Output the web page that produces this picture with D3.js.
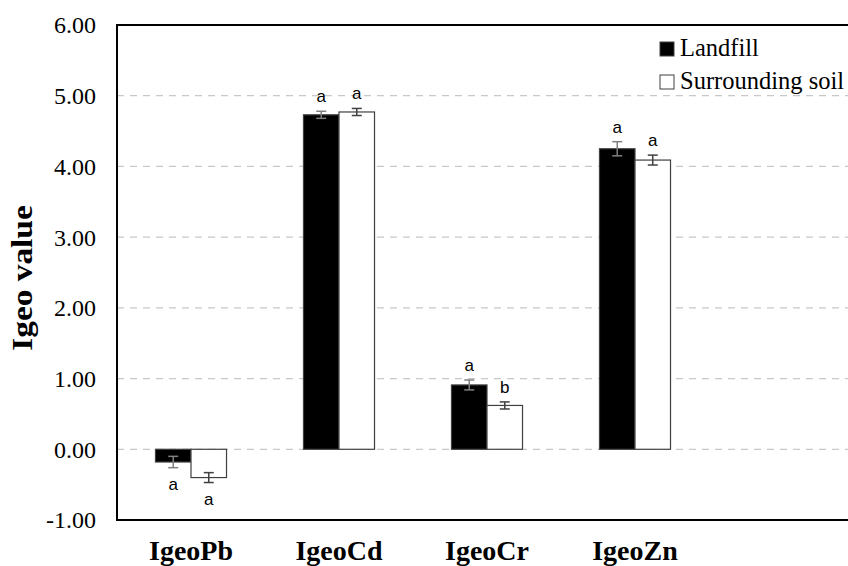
<!DOCTYPE html>
<html>
<head>
<meta charset="utf-8">
<script src="https://cdn.jsdelivr.net/npm/d3@7"></script>
<style>
  body { margin: 0; background: #fff; }
  svg { display: block; }
</style>
</head>
<body>
<div id="chart"></div>
<script>
const categories = ['IgeoPb', 'IgeoCd', 'IgeoCr', 'IgeoZn'];
const seriesNames = ['Landfill', 'Surrounding soil'];
const landfill = [-0.18, 4.73, 0.91, 4.25];
const landfillErr = [0.08, 0.05, 0.07, 0.10];
const landfillLetters = ['a', 'a', 'a', 'a'];
const soil = [-0.40, 4.77, 0.62, 4.09];
const soilErr = [0.07, 0.05, 0.05, 0.07];
const soilLetters = ['a', 'a', 'b', 'a'];
const yTicks = [-1, 0, 1, 2, 3, 4, 5, 6];

const width = 848;
const height = 566;
const plotLeft = 117, plotTop = 25, plotBottom = 520;
const serif = "'Liberation Serif', 'Times New Roman', serif";

const svg = d3.select('#chart').append('svg')
  .attr('width', width)
  .attr('height', height);

const y = d3.scaleLinear().domain([-1, 6]).range([plotBottom, plotTop]);
const x = d3.scaleBand().domain(categories)
  .range([plotLeft, plotLeft + 148 * categories.length])
  .paddingInner(0.52).paddingOuter(0.26);
const xs = d3.scaleBand().domain(seriesNames).range([0, x.bandwidth()]);

// gridlines
svg.append('g')
  .selectAll('line')
  .data(yTicks.filter(t => t > -1 && t < 6))
  .enter().append('line')
  .attr('x1', plotLeft).attr('x2', width)
  .attr('y1', d => y(d)).attr('y2', d => y(d))
  .attr('stroke', '#c8c8c8')
  .attr('stroke-width', 1.2)
  .attr('stroke-dasharray', '7,6');

// y tick labels
svg.append('g')
  .selectAll('text')
  .data(yTicks)
  .enter().append('text')
  .attr('x', 96)
  .attr('y', d => y(d))
  .attr('dy', '0.35em')
  .attr('text-anchor', 'end')
  .attr('font-family', serif)
  .attr('font-size', 24)
  .attr('fill', '#000')
  .text(d => d.toFixed(2));

const rows = categories.map((c, i) => [
  { cat: c, s: seriesNames[0], v: landfill[i], e: landfillErr[i], l: landfillLetters[i] },
  { cat: c, s: seriesNames[1], v: soil[i], e: soilErr[i], l: soilLetters[i] }
]).flat();

// bars
svg.append('g')
  .selectAll('rect')
  .data(rows)
  .enter().append('rect')
  .attr('x', d => x(d.cat) + xs(d.s))
  .attr('width', xs.bandwidth())
  .attr('y', d => y(Math.max(0, d.v)))
  .attr('height', d => Math.abs(y(d.v) - y(0)))
  .attr('fill', d => d.s === seriesNames[0] ? '#000' : '#fff')
  .attr('stroke', '#404040')
  .attr('stroke-width', 1.2);

// error bars
const err = svg.append('g')
  .attr('stroke-width', 1.5);
rows.forEach(d => {
  const cx = x(d.cat) + xs(d.s) + xs.bandwidth() / 2;
  const lo = y(d.v - d.e), hi = y(d.v + d.e);
  const col = d.s === seriesNames[0] ? '#808080' : '#404040';
  err.append('line').attr('x1', cx).attr('x2', cx).attr('y1', lo).attr('y2', hi).attr('stroke', col);
  err.append('line').attr('x1', cx - 5).attr('x2', cx + 5).attr('y1', lo).attr('y2', lo).attr('stroke', col);
  err.append('line').attr('x1', cx - 5).attr('x2', cx + 5).attr('y1', hi).attr('y2', hi).attr('stroke', col);
});

// significance letters
svg.append('g')
  .selectAll('text')
  .data(rows)
  .enter().append('text')
  .attr('x', d => x(d.cat) + xs(d.s) + xs.bandwidth() / 2)
  .attr('y', d => d.v >= 0 ? y(d.v + d.e) - 9 : y(d.v - d.e) + 22)
  .attr('text-anchor', 'middle')
  .attr('font-family', "'Liberation Sans', Arial, sans-serif")
  .attr('font-size', 17)
  .attr('fill', '#000')
  .text(d => d.l);

// frame
const frame = svg.append('g').attr('stroke', '#000').attr('stroke-width', 2);
frame.append('line').attr('x1', plotLeft).attr('x2', plotLeft).attr('y1', plotTop).attr('y2', plotBottom);
frame.append('line').attr('x1', plotLeft - 1).attr('x2', width).attr('y1', plotTop).attr('y2', plotTop);
frame.append('line').attr('x1', plotLeft - 1).attr('x2', width).attr('y1', plotBottom).attr('y2', plotBottom);

// x labels
svg.append('g')
  .selectAll('text')
  .data(categories)
  .enter().append('text')
  .attr('x', d => x(d) + x.bandwidth() / 2)
  .attr('y', 560)
  .attr('text-anchor', 'middle')
  .attr('font-family', serif)
  .attr('font-weight', 'bold')
  .attr('font-size', 28)
  .attr('fill', '#000')
  .text(d => d);

// y title
svg.append('text')
  .attr('transform', 'translate(32,278) rotate(-90) scale(1.15,1)')
  .attr('text-anchor', 'middle')
  .attr('font-family', serif)
  .attr('font-weight', 'bold')
  .attr('font-size', 29)
  .attr('fill', '#000')
  .text('Igeo value');

// legend
const legend = svg.append('g')
  .selectAll('g')
  .data(seriesNames)
  .enter().append('g')
  .attr('transform', (d, i) => `translate(660,${42 + i * 33})`);
legend.append('rect')
  .attr('width', 14).attr('height', 14)
  .attr('fill', (d, i) => i === 0 ? '#000' : '#fff')
  .attr('stroke', '#404040')
  .attr('stroke-width', 1);
legend.append('text')
  .attr('x', 20)
  .attr('y', 14)
  .attr('font-family', serif)
  .attr('font-size', 24.5)
  .attr('fill', '#000')
  .text(d => d);
</script>
</body>
</html>
